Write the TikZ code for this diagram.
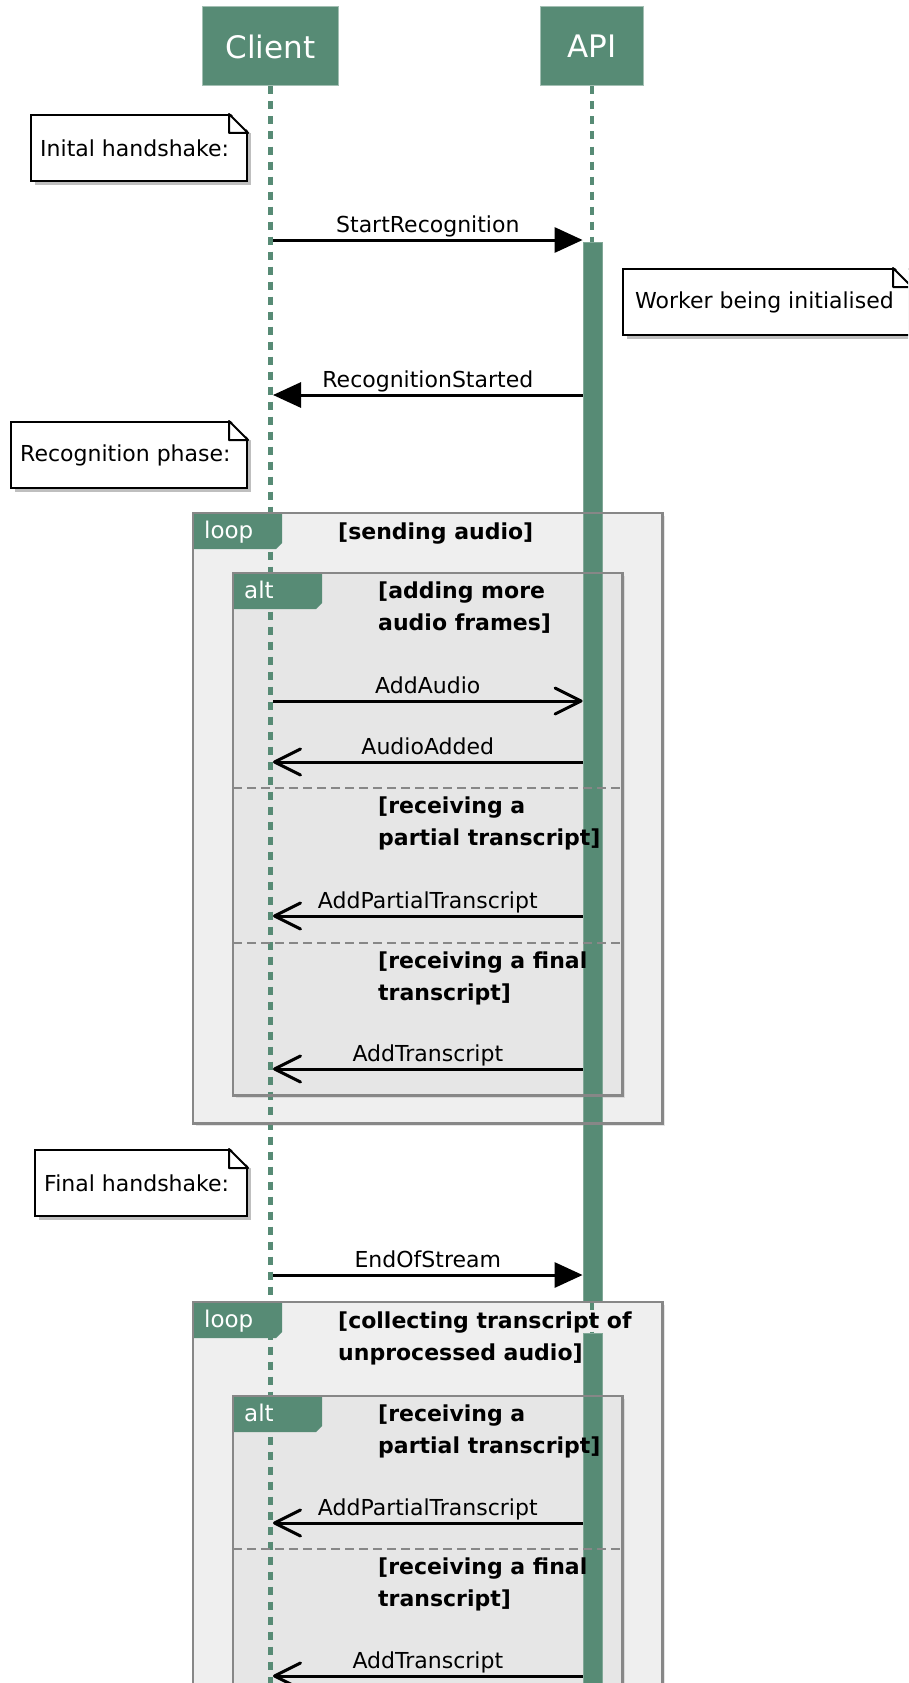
\documentclass[tikz,border=0pt]{standalone}
\usepackage{fontspec}
\setmainfont{DejaVu Sans}
\usetikzlibrary{arrows.meta,positioning,shadows}

\definecolor{seqgreen}{HTML}{578B75}
\definecolor{loopgray}{HTML}{EFEFEF}
\definecolor{altgray}{HTML}{E6E6E6}
\definecolor{framegray}{HTML}{878787}

\tikzset{
  font=\fontsize{22}{26}\selectfont,
  actor/.style={
    draw=seqgreen!55!white,
    fill=seqgreen,
    text=white,
    line width=1pt,
    minimum height=79pt,
    font=\fontsize{31}{36}\selectfont
  },
  lifeline/.style={
    seqgreen,
    line width=4.5pt,
    dash pattern=on 8pt off 7pt
  },
  activation/.style={
    draw=seqgreen!75!white,
    fill=seqgreen,
    line width=.8pt,
    minimum width=19pt,
    inner sep=0pt
  },
  note/.style={
    draw,
    fill=white,
    line width=2pt,
    minimum height=66pt,
    inner sep=0pt,
    drop shadow={shadow xshift=4pt, shadow yshift=-4pt, opacity=.5}
  },
  notetext/.style={
    inner sep=0pt
  },
  loopbox/.style={
    fill=loopgray,
    inner sep=0pt,
    drop shadow={shadow xshift=3pt, shadow yshift=-3pt, opacity=.2}
  },
  altbox/.style={
    fill=altgray,
    inner sep=0pt,
    drop shadow={shadow xshift=3pt, shadow yshift=-3pt, opacity=.2}
  },
  frameline/.style={draw=framegray, line width=2.4pt},
  sepline/.style={draw=framegray, line width=2.2pt, dash pattern=on 9pt off 5pt},
  tag/.style={text=white, inner sep=0pt, font=\fontsize{23}{27}\selectfont},
  guard/.style={align=left, inner sep=0pt, font=\bfseries\fontsize{22}{31.5}\selectfont},
  msg/.style={midway, anchor=base, yshift=8pt, inner sep=0pt},
  call/.style={line width=3pt, -{Triangle[length=28pt,width=25pt]}},
  reply/.style={line width=3pt, -{Straight Barb[length=26pt,width=26pt,round]}}
}

\begin{document}
\begin{tikzpicture}[x=1pt, y=-1pt]
\useasboundingbox[fill=white] (0,0) rectangle (908,1683);
\clip (0,0) rectangle (908,1683);

% combined fragments (fill only, borders come later)
\node[loopbox, minimum width=469pt, minimum height=610pt, anchor=north west] (loop1) at (193,513) {};
\node[altbox, minimum width=389pt, minimum height=522pt, anchor=north west] (alt1) at (233,573) {};
\node[loopbox, minimum width=469pt, minimum height=500pt, anchor=north west] (loop2) at (193,1302) {};
\node[altbox, minimum width=389pt, minimum height=400pt, anchor=north west] (alt2) at (233,1396) {};

% participants
\node[actor, minimum width=136pt] (client) at (270.5,46.5) {Client};
\node[actor, minimum width=103pt, right=201pt of client] (api) {API};

\draw[lifeline] (client.south) -- ++(0,1700);
\draw[lifeline] (api.south) -- ++(0,1700);

\node[activation, minimum height=1060pt, anchor=north] (apibar) at (592.5,242) {};
\node[activation, minimum height=420pt, anchor=north] (apibar2) at (592.5,1333) {};

% tabs and borders
\foreach \f/\t in {loop1/loop,alt1/alt,loop2/loop,alt2/alt} {
  \fill[seqgreen] (\f.north west) -- ++(89,0) -- ++(0,30) -- ++(-6,6) -- ++(-83,0) -- cycle;
  \node[tag, anchor=base west] (tag\f) at ([xshift=11pt,yshift=-25pt]\f.north west) {\t};
}
\foreach \f in {loop1,alt1,loop2,alt2}
  \draw[frameline] (\f.north west) rectangle (\f.south east);

\coordinate (s1) at (233,788);
\coordinate (s2) at (233,943);
\coordinate (s3) at (233,1549);
\foreach \s/\f in {s1/alt1,s2/alt1,s3/alt2}
  \draw[sepline] (\s) -- (\s -| \f.east);

% guards
\node[guard, anchor=north west] (g1) at ([xshift=145pt,yshift=-10pt]loop1.north west) {[sending audio]};
\node[guard, anchor=north west] (g2) at ([xshift=145pt,yshift=-9pt]alt1.north west) {[adding more\\audio frames]};
\node[guard, anchor=north west] (g3) at ([xshift=145pt,yshift=-9pt]s1) {[receiving a\\partial transcript]};
\node[guard, anchor=north west] (g4) at ([xshift=145pt,yshift=-9pt]s2) {[receiving a final\\transcript]};
\node[guard, anchor=north west] (g5) at ([xshift=145pt,yshift=-10pt]loop2.north west) {[collecting transcript of\\unprocessed audio]};
\node[guard, anchor=north west] (g6) at ([xshift=145pt,yshift=-9pt]alt2.north west) {[receiving a\\partial transcript]};
\node[guard, anchor=north west] (g7) at ([xshift=145pt,yshift=-9pt]s3) {[receiving a final\\transcript]};

% notes
\node[note, minimum width=216pt, anchor=north west] (n1) at (30,114) {};
\node[note, minimum width=288pt, anchor=north west] (n2) at (622,268) {};
\node[note, minimum width=236pt, anchor=north west] (n3) at (10,421) {};
\node[note, minimum width=212pt, anchor=north west] (n4) at (34,1149) {};
\foreach \n in {n1,n2,n3,n4} {
  \fill[white] ([xshift=-19pt,yshift=2pt]\n.north east) -- ([xshift=7pt,yshift=2pt]\n.north east)
    -- ([xshift=7pt,yshift=-19pt]\n.north east) -- ([xshift=2pt,yshift=-19pt]\n.north east) -- cycle;
  \draw[line width=2pt, line join=round] ([xshift=-19pt]\n.north east) -- ([yshift=-19pt]\n.north east)
    -- ([xshift=-19pt,yshift=-19pt]\n.north east) -- cycle;
}
\node[notetext, anchor=west] (t1) at ([xshift=10pt]n1.west) {Inital handshake:};
\node[notetext, anchor=west] (t2) at ([xshift=13pt]n2.west) {Worker being initialised};
\node[notetext, anchor=west] (t3) at ([xshift=10pt]n3.west) {Recognition phase:};
\node[notetext, anchor=west] (t4) at ([xshift=10pt]n4.west) {Final handshake:};

% messages
\coordinate (r1) at (273,240);
\coordinate (r2) at (273,395);
\coordinate (r3) at (273,701);
\coordinate (r4) at (273,762);
\coordinate (r5) at (273,916);
\coordinate (r6) at (273,1069);
\coordinate (r7) at (273,1275);
\coordinate (r8) at (273,1523);
\coordinate (r9) at (273,1676);

\draw[call] (r1) -- node[msg] (l1) {StartRecognition} (r1 -| apibar.west);
\draw[call] (r2 -| apibar.west) -- node[msg] (l2) {RecognitionStarted} (r2);
\draw[reply] (r3) -- node[msg] (l3) {AddAudio} (r3 -| apibar.west);
\draw[reply] (r4 -| apibar.west) -- node[msg] (l4) {AudioAdded} (r4);
\draw[reply] (r5 -| apibar.west) -- node[msg] (l5) {AddPartialTranscript} (r5);
\draw[reply] (r6 -| apibar.west) -- node[msg] (l6) {AddTranscript} (r6);
\draw[call] (r7) -- node[msg] (l7) {EndOfStream} (r7 -| apibar.west);
\draw[reply] (r8 -| apibar2.west) -- node[msg] (l8) {AddPartialTranscript} (r8);
\draw[reply] (r9 -| apibar2.west) -- node[msg] (l9) {AddTranscript} (r9);

\end{tikzpicture}
\end{document}
